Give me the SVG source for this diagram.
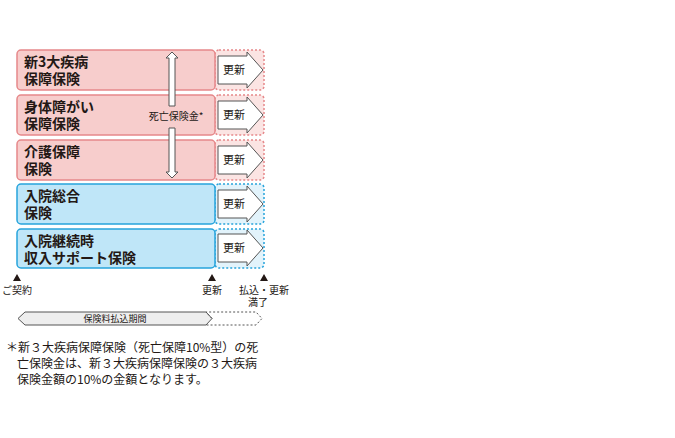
<svg xmlns="http://www.w3.org/2000/svg" width="675" height="438" viewBox="0 0 675 438">
<style>
text{font-family:"Noto Sans CJK JP","Noto Sans",sans-serif;fill:#231815}
.t{font-size:14px;font-weight:bold}
.s{font-size:10px}
.u{font-size:11px}
.f{font-size:12px}
.pk{fill:#f7cdcc;stroke:#e6888a;stroke-width:1.5}
.pkd{fill:#fbe4e3;stroke:#e6888a;stroke-width:1.5;stroke-dasharray:2 2}
.bl{fill:#bfe6f8;stroke:#27a4dc;stroke-width:1.5}
.bld{fill:#e2f3fb;stroke:#27a4dc;stroke-width:1.5;stroke-dasharray:2 2}
.ar{fill:#fff;stroke:#555;stroke-width:1}
</style>
<g id="n1"><rect x="215" y="50" width="49" height="40" rx="4" class="pkd"/><rect x="17" y="50" width="198" height="40" rx="4" class="pk"/><path d="M218,56 H247 V52 L263,70 L247,88 V84 H218 Z" class="ar"/><text x="234" y="74" class="u" text-anchor="middle">更新</text><text x="24" y="67" class="t">新3大疾病</text><text x="24" y="84" class="t">保障保険</text></g>
<g id="n2"><rect x="215" y="95" width="49" height="40" rx="4" class="pkd"/><rect x="17" y="95" width="198" height="40" rx="4" class="pk"/><path d="M218,101 H247 V97 L263,115 L247,133 V129 H218 Z" class="ar"/><text x="234" y="119" class="u" text-anchor="middle">更新</text><text x="24" y="112" class="t">身体障がい</text><text x="24" y="129" class="t">保障保険</text></g>
<g id="n3"><rect x="215" y="140" width="49" height="40" rx="4" class="pkd"/><rect x="17" y="140" width="198" height="40" rx="4" class="pk"/><path d="M218,146 H247 V142 L263,160 L247,178 V174 H218 Z" class="ar"/><text x="234" y="164" class="u" text-anchor="middle">更新</text><text x="24" y="157" class="t">介護保障</text><text x="24" y="174" class="t">保険</text></g>
<g id="n4"><rect x="215" y="184" width="49" height="40" rx="4" class="bld"/><rect x="17" y="184" width="198" height="40" rx="4" class="bl"/><path d="M218,190 H247 V186 L263,204 L247,222 V218 H218 Z" class="ar"/><text x="234" y="208" class="u" text-anchor="middle">更新</text><text x="24" y="201" class="t">入院総合</text><text x="24" y="218" class="t">保険</text></g>
<g id="n5"><rect x="215" y="229" width="49" height="39" rx="4" class="bld"/><rect x="17" y="229" width="198" height="39" rx="4" class="bl"/><path d="M218,234 H247 V230 L263,248 L247,266 V262 H218 Z" class="ar"/><text x="234" y="252" class="u" text-anchor="middle">更新</text><text x="24" y="246" class="t">入院継続時</text><text x="24" y="263" class="t">収入サポート保険</text></g>
<g id="connectors">
<path d="M172,52 L178,58 L175,58 L175,106 L169,106 L169,58 L166,58 Z" class="ar"/>
<path d="M172,178 L178,172 L175,172 L175,128 L169,128 L169,172 L166,172 Z" class="ar"/>
<text x="176" y="120" class="s" text-anchor="middle">死亡保険金*</text>
</g>
<g id="timeline">
<path d="M17,274 L21,281 L13,281 Z M212,274 L216,281 L208,281 Z M264,274 L268,281 L260,281 Z" fill="#231815"/>
<text x="17" y="294" class="s" text-anchor="middle">ご契約</text>
<text x="212" y="294" class="s" text-anchor="middle">更新</text>
<text x="264" y="294" class="s" text-anchor="middle">払込・更新</text>
<text x="258" y="306" class="s" text-anchor="middle">満了</text>
<path d="M25,312 H206 L212,318.5 L206,325 H25 L18,318.5 Z" fill="#eeeeee" stroke="#555" stroke-width="1"/>
<path d="M212,318.5 L206,312 H256 L262,318.5 L256,325 H206" fill="none" stroke="#555" stroke-width="1" stroke-dasharray="2 2"/>
<text x="115" y="322" font-size="9" text-anchor="middle">保険料払込期間</text>
</g>
<g id="note">
<text x="6" y="352" class="f">＊新３大疾病保障保険（死亡保障10%型）の死</text>
<text x="17" y="368" class="f">亡保険金は、新３大疾病保障保険の３大疾病</text>
<text x="17" y="384" class="f">保険金額の10%の金額となります。</text>
</g>
</svg>
